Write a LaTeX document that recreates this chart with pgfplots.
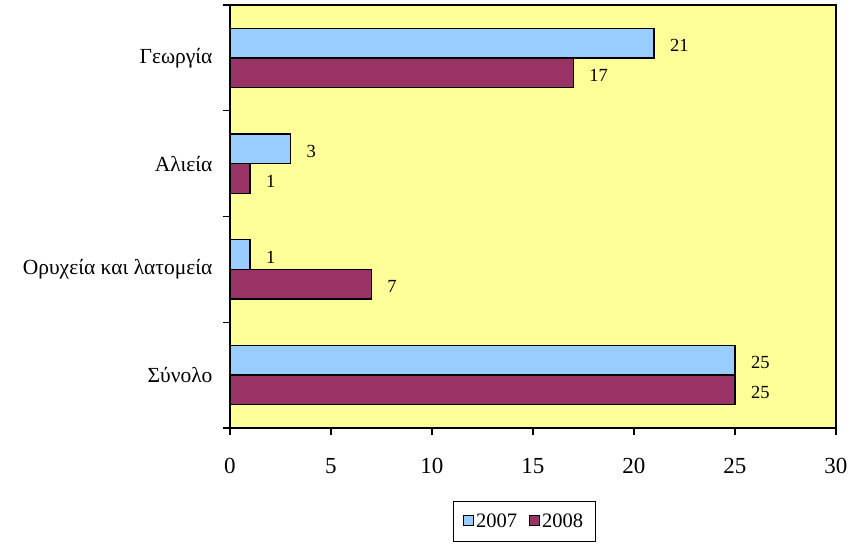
\documentclass[border=0pt]{standalone}
\usepackage{fontspec}
\setmainfont{Liberation Serif}
\usepackage{pgfplots}
\pgfplotsset{compat=1.18}
\definecolor{bgY}{HTML}{FFFF99}
\definecolor{b07}{HTML}{99CCFF}
\definecolor{b08}{HTML}{993366}
\begin{document}
\begin{tikzpicture}
\useasboundingbox (-230pt,-116pt) rectangle (627pt,428pt);
\begin{axis}[
  at={(0pt,0pt)}, anchor=south west,
  scale only axis, width=606pt, height=423pt,
  xbar, bar width=0.28,
  xmin=0, xmax=30, ymin=-0.5, ymax=3.5,
  xtick={0,5,...,30},
  ytick={-0.5,0.5,1.5,2.5,3.5}, yticklabels={},
  extra y ticks={0,1,2,3},
  extra y tick labels={Σύνολο, Ορυχεία και λατομεία, Αλιεία, Γεωργία},
  extra y tick style={major tick length=0pt},
  xtick pos=lower, ytick pos=left,
  tick align=outside, major tick length=7pt,
  tick style={black, line width=1.2pt},
  axis background/.style={fill=bgY},
  axis line style={line width=1.8pt},
  xticklabel style={font=\fontsize{23}{26}\selectfont, yshift=-20pt},
  yticklabel style={font=\fontsize{21.5}{24}\selectfont, xshift=-14pt},
  /pgf/number format/assume math mode=true,
  nodes near coords,
  nodes near coords style={font=\fontsize{18.5}{21}\selectfont, black, xshift=12pt, yshift=-2.5pt},
  legend style={at={(0.4855,-0.221)}, anchor=center, legend columns=2,
    draw=black, line width=1pt, font=\fontsize{20.5}{23}\selectfont,
    inner xsep=10pt, inner ysep=11pt,
    nodes={inner xsep=2pt, inner ysep=1pt},
    /tikz/every even column/.append style={column sep=10pt}},
  legend image code/.code={\draw[#1, line width=1pt] (0pt,-4pt) rectangle (10pt,6pt);},
]
\addplot[fill=b07, draw=black, line width=1.4pt, bar shift=0.14] coordinates {(25,0) (1,1) (3,2) (21,3)};
\addplot[fill=b08, draw=black, line width=1.4pt, bar shift=-0.14] coordinates {(25,0) (7,1) (1,2) (17,3)};
\legend{2007, 2008}
\draw[line width=2.8pt] (rel axis cs:0,0) -- (rel axis cs:0,1);
\draw[line width=2.8pt] (rel axis cs:0,0) -- (rel axis cs:1,0);
\end{axis}
\end{tikzpicture}
\end{document}
